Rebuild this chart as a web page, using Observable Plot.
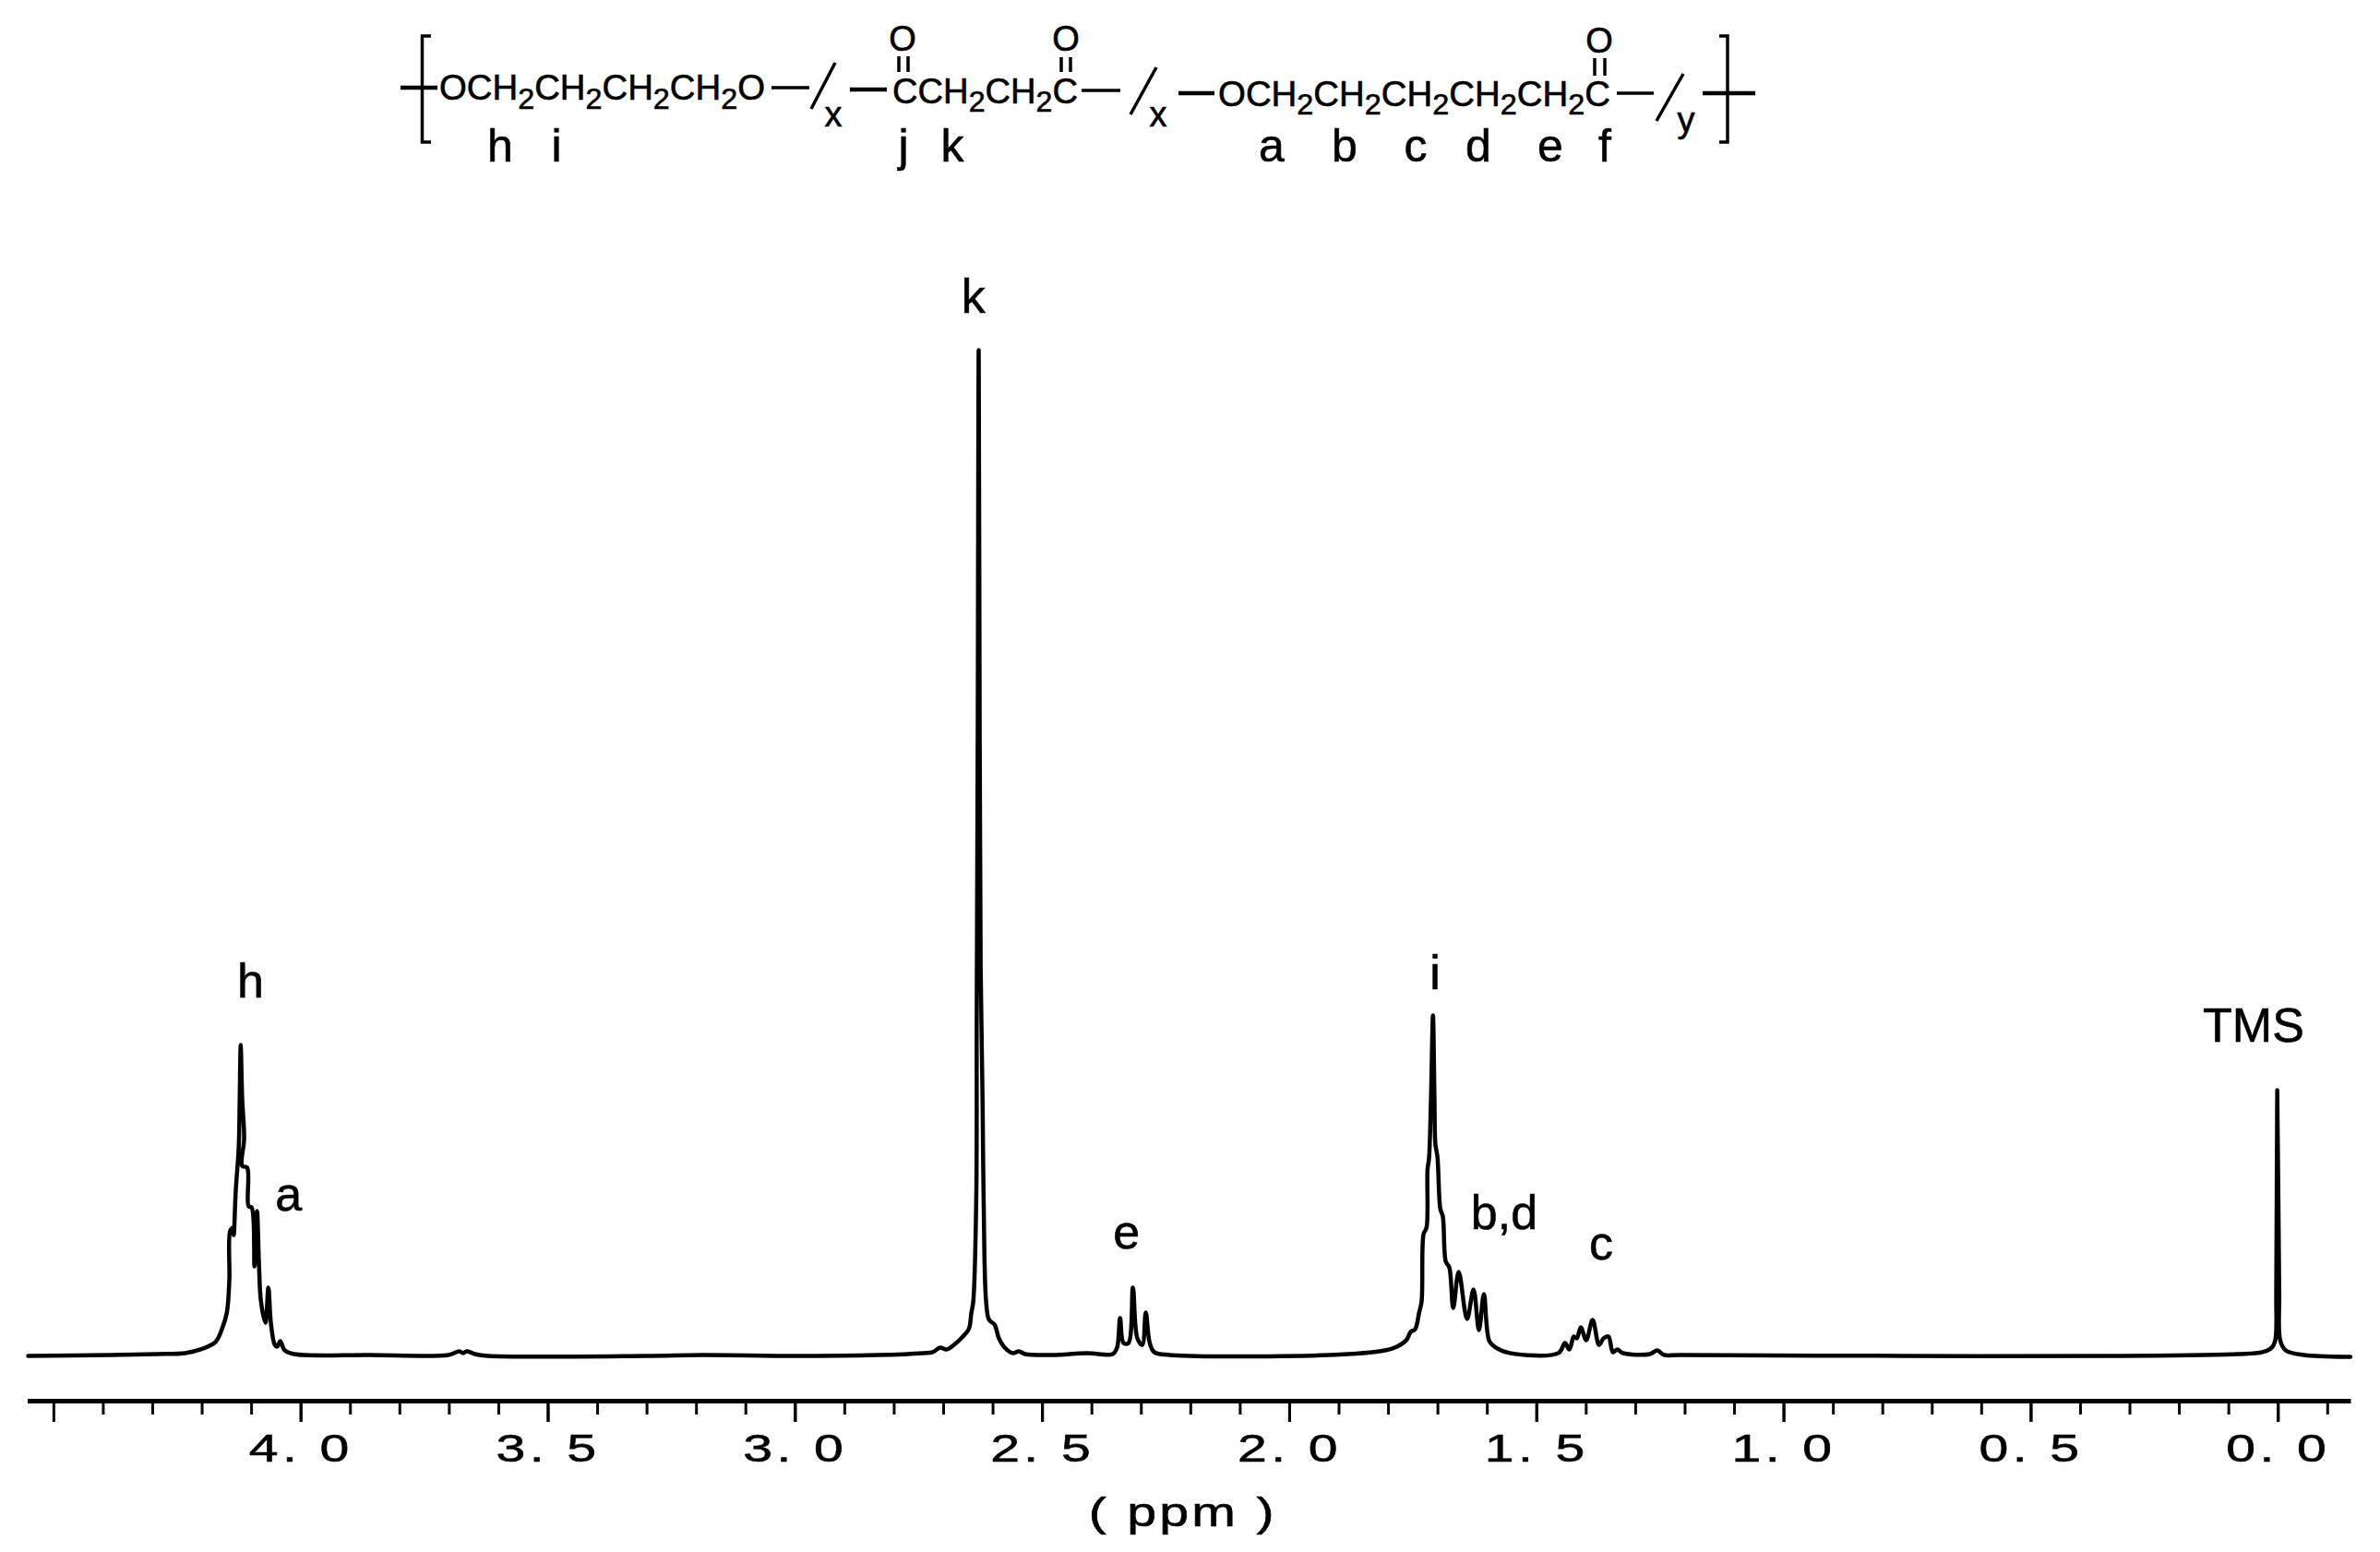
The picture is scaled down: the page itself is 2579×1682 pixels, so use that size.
<!DOCTYPE html>
<html>
<head>
<meta charset="utf-8">
<script src="https://cdn.jsdelivr.net/npm/d3@7"></script>
<script src="https://cdn.jsdelivr.net/npm/@observablehq/plot@0.6"></script>
<style>
html,body{margin:0;padding:0;background:#fff;}
#formula{display:block;}
#chart svg{display:block;}
text{font-family:"Liberation Sans",Arial,sans-serif;fill:#000;stroke:#000;stroke-width:.6px;}
</style>
</head>
<body>
<svg id="formula" width="2579" height="230" viewBox="0 0 2579 230" font-family="Liberation Sans">
  <g stroke="#000" fill="none" stroke-width="3.5">
    <path d="M467 39H457.5V154H467"/>
    <path d="M1863 39H1872V154H1863"/>
    <path d="M434 95H474" stroke-width="4.5"/>
    <path d="M836 95H877"/>
    <path d="M905 68L879 118"/>
    <path d="M921 97H961" stroke-width="4.5"/>
    <path d="M974 61V78M984 61V78"/>
    <path d="M1150 62V78M1160 62V78"/>
    <path d="M1172 98H1214"/>
    <path d="M1253 73L1225 124"/>
    <path d="M1277 101H1316" stroke-width="4.5"/>
    <path d="M1728 63V82M1739 63V82"/>
    <path d="M1752 101H1792"/>
    <path d="M1824 80L1795 131"/>
    <path d="M1845 101H1902" stroke-width="4.5"/>
  </g>
  <g font-size="38">
    <text x="476" y="108" textLength="353" lengthAdjust="spacingAndGlyphs">OCH<tspan dy="10" font-size="32">2</tspan><tspan dy="-10">CH</tspan><tspan dy="10" font-size="32">2</tspan><tspan dy="-10">CH</tspan><tspan dy="10" font-size="32">2</tspan><tspan dy="-10">CH</tspan><tspan dy="10" font-size="32">2</tspan><tspan dy="-10">O</tspan></text>
    <text x="967" y="112" textLength="201" lengthAdjust="spacingAndGlyphs">CCH<tspan dy="9" font-size="32">2</tspan><tspan dy="-9">CH</tspan><tspan dy="9" font-size="32">2</tspan><tspan dy="-9">C</tspan></text>
    <text x="1320" y="115" textLength="425" lengthAdjust="spacingAndGlyphs">OCH<tspan dy="9" font-size="32">2</tspan><tspan dy="-9">CH</tspan><tspan dy="9" font-size="32">2</tspan><tspan dy="-9">CH</tspan><tspan dy="9" font-size="32">2</tspan><tspan dy="-9">CH</tspan><tspan dy="9" font-size="32">2</tspan><tspan dy="-9">CH</tspan><tspan dy="9" font-size="32">2</tspan><tspan dy="-9">C</tspan></text>
    <text x="978" y="55" text-anchor="middle">O</text>
    <text x="1155" y="55" text-anchor="middle">O</text>
    <text x="1733" y="57" text-anchor="middle">O</text>
    <text x="903" y="137" text-anchor="middle">x</text>
    <text x="1255" y="137" text-anchor="middle">x</text>
    <text x="1827" y="143" text-anchor="middle">y</text>
  </g>
  <g font-size="50" text-anchor="middle">
    <text x="542" y="175">h</text>
    <text x="603" y="175">i</text>
    <text x="979" y="175">j</text>
    <text x="1032" y="175">k</text>
    <text x="1378" y="175">a</text>
    <text x="1457" y="175">b</text>
    <text x="1534" y="175">c</text>
    <text x="1602" y="175">d</text>
    <text x="1680" y="175">e</text>
    <text x="1739" y="175">f</text>
  </g>
</svg>
<div id="chart"></div>
<script>
const ppm = [4.552,4.384,4.290,4.234,4.203,4.173,4.160,4.150,4.145,4.143,4.137,4.136,4.132,4.126,4.124,4.122,4.119,4.115,4.119,4.109,4.106,4.100,4.094,4.089,4.085,4.081,4.072,4.066,4.061,4.053,4.048,4.042,4.033,4.014,3.861,3.702,3.680,3.672,3.665,3.648,3.622,3.301,3.189,3.002,2.834,2.741,2.722,2.707,2.694,2.679,2.661,2.649,2.644,2.640,2.634,2.633,2.631,2.629,2.627,2.625,2.621,2.619,2.614,2.608,2.597,2.588,2.578,2.560,2.548,2.535,2.479,2.410,2.358,2.349,2.343,2.336,2.326,2.317,2.308,2.298,2.291,2.283,2.274,2.242,1.919,1.807,1.783,1.764,1.755,1.746,1.738,1.733,1.729,1.723,1.721,1.718,1.714,1.710,1.707,1.705,1.701,1.695,1.690,1.684,1.677,1.669,1.658,1.641,1.628,1.617,1.607,1.596,1.583,1.555,1.456,1.443,1.434,1.425,1.419,1.411,1.400,1.387,1.374,1.365,1.355,1.346,1.337,1.326,1.271,1.256,1.243,1.210,0.762,0.314,0.084,0.032,0.013,0.006,0.004,0.002,-0.002,-0.004,-0.015,-0.052,-0.146];
const intensity = [0,0.09,0.18,0.28,0.64,1.38,2.66,4.31,7.52,12.48,12.75,12.02,16.42,20.73,25.6,30.92,25.6,21.65,18.9,18.72,14.86,14.77,8.9,14.4,9.08,5.41,3.3,6.79,3.3,1.1,0.92,1.47,0.55,0.18,0.09,0.09,0.46,0.28,0.46,0.18,0,0,0.09,0,0.09,0.28,0.37,0.83,0.64,1.1,1.93,2.66,4.22,5.41,15.5,33.85,61.38,100,61.38,38.44,24.68,15.5,5.41,3.58,3.12,1.74,0.92,0.28,0.46,0.18,0.09,0.28,0.18,0.83,3.76,1.28,1.28,6.79,1.74,1.1,4.31,1.28,0.37,0.09,0.09,0.55,0.92,1.56,2.39,2.66,4.31,5.41,12.11,12.75,18.53,19.63,25.6,33.85,25.6,21.0,19.82,14.59,13.85,9.36,8.81,4.77,8.35,3.67,6.61,2.57,6.15,1.47,0.83,0.28,0.28,1.28,0.64,1.93,1.74,2.84,1.56,3.58,1.1,1.74,1.93,0.37,0.64,0.28,0.18,0.55,0.09,0.09,0,0,0.18,0.37,0.83,1.56,6.33,26.42,6.33,1.56,0.55,0.09,-0.09];

const peakNames = ["k","h","a","e","i","b,d","c","TMS"];
const peakPpm = [2.640,4.102,4.025,2.330,1.706,1.566,1.370,0.050];
const peakHeight = [103.76,35.6,14.4,10.73,36.42,12.57,9.54,31.28];

const majorTicks = [4.5,4,3.5,3,2.5,2,1.5,1,0.5,0];
const labelledTicks = [4,3.5,3,2.5,2,1.5,1,0.5,0];
const minorTicks = d3.range(-1,46).map(i=>i/10).filter(v=>!majorTicks.includes(v));
const axisBase = -4.5;
const axisTitle = "( ppm )";
const axisTitlePpm = [2.216];
const axisTitleHeight = [-16.9];

const spectrum = ppm.map((p,i)=>({p,v:intensity[i]}));
const peaks = peakNames.map((n,i)=>({n,p:peakPpm[i],h:peakHeight[i]}));

const chart = Plot.plot({
  width:2579, height:1452,
  marginLeft:30, marginRight:31.5, marginTop:149, marginBottom:164,
  style:{background:"#fff",color:"#000",fontFamily:"Liberation Sans"},
  x:{domain:[4.552,-0.148]},
  y:{domain:[axisBase,100],axis:null},
  marks:[
    Plot.ruleY([axisBase],{stroke:"#000",strokeWidth:5}),
    Plot.axisX({ticks:minorTicks,tickSize:15,strokeWidth:3,text:null,label:null,stroke:"#000"}),
    Plot.axisX({ticks:majorTicks,tickSize:23,strokeWidth:3,text:null,label:null,stroke:"#000"}),
    Plot.axisX({ticks:labelledTicks,tickSize:23,strokeWidth:3,tickPadding:12,fontSize:43,label:null,stroke:"#000",fill:"#000",
      tickFormat:d=>d.toFixed(1).replace(".",". ")}),
    Plot.line(spectrum,{x:"p",y:"v",stroke:"#000",strokeWidth:4.5,strokeLinejoin:"round",curve:"catmull-rom"}),
    Plot.text(peaks,{x:"p",y:"h",text:"n",fontSize:52,fill:"#000",lineAnchor:"bottom",textAnchor:"middle"}),
    Plot.text([axisTitle],{x:axisTitlePpm,y:axisTitleHeight,fontSize:44,fill:"#000",lineAnchor:"bottom",textAnchor:"middle"})
  ]
});
document.getElementById("chart").append(chart);
const stretch=(t,sx,ls)=>{
  t.setAttribute("transform",(t.getAttribute("transform")||"")+` scale(${sx},1)`);
  t.style.letterSpacing=ls+"px";
};
chart.querySelectorAll("text").forEach(t=>{
  if(t.textContent===axisTitle) stretch(t,1.3,2.5);
  else if(/^\d\. \d$/.test(t.textContent)) stretch(t,1.33,3.3);
});
</script>
</body>
</html>
